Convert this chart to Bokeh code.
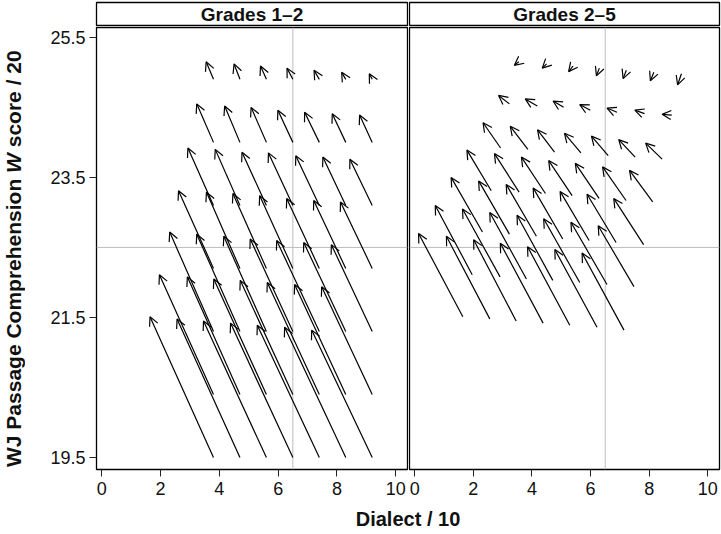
from bokeh.plotting import figure
from bokeh.models import (Arrow, OpenHead, ColumnDataSource, Span, Range1d,
                          Label, Title, FixedTicker, Div)
from bokeh.layouts import column, row
from bokeh.embed import file_html
from bokeh.resources import INLINE

FONT = "Liberation Sans"

# ---- data -------------------------------------------------------------
panel_titles = ["Grades 1\u20132", "Grades 2\u20135"]
x_ticks = [0, 2, 4, 6, 8, 10]
y_ticks = [19.5, 21.5, 23.5, 25.5]
ref_dialect = 6.5
ref_score = 22.5

# starting grid (Grades 1-2): dialect levels and score levels
x_levels = [3.8, 4.7, 5.6, 6.5, 7.4, 8.3, 9.2]
y_levels = [19.5, 20.4, 21.3, 22.2, 23.1, 24.0, 24.9]

# arrow heads, Grades 1-2 (rows follow y_levels, columns follow x_levels)
head1_x = [
    [1.64, 2.56, 3.46, 4.38, 5.29, 6.22, 7.14],
    [1.96, 2.91, 3.81, 4.71, 5.63, 6.56, 7.48],
    [2.31, 3.23, 4.15, 5.05, 5.95, 6.87, 7.81],
    [2.61, 3.56, 4.46, 5.37, 6.29, 7.21, 8.12],
    [2.93, 3.86, 4.77, 5.67, 6.60, 7.52, 8.44],
    [3.23, 4.18, 5.08, 5.99, 6.90, 7.84, 8.77],
    [3.55, 4.50, 5.40, 6.30, 7.22, 8.16, 9.10],
]
head1_y = [
    [21.51, 21.48, 21.45, 21.42, 21.39, 21.36, 21.32],
    [22.11, 22.08, 22.05, 22.03, 22.00, 21.97, 21.94],
    [22.72, 22.69, 22.66, 22.62, 22.60, 22.57, 22.54],
    [23.31, 23.29, 23.27, 23.24, 23.20, 23.17, 23.15],
    [23.92, 23.90, 23.86, 23.85, 23.81, 23.79, 23.76],
    [24.55, 24.52, 24.50, 24.46, 24.43, 24.41, 24.39],
    [25.15, 25.12, 25.09, 25.06, 25.03, 25.00, 24.98],
]
# arrow heads, Grades 2-5 (each starts where the Grades 1-2 arrow ended)
head2_x = [
    [0.13, 1.08, 2.01, 2.92, 3.85, 4.78, 5.71],
    [0.70, 1.63, 2.56, 3.49, 4.40, 5.33, 6.26],
    [1.24, 2.18, 3.12, 4.04, 4.96, 5.88, 6.79],
    [1.78, 2.72, 3.64, 4.57, 5.48, 6.41, 7.33],
    [2.33, 3.26, 4.19, 5.11, 6.03, 6.96, 7.88],
    [2.86, 3.77, 4.72, 5.63, 6.56, 7.51, 8.44],
    [3.40, 4.35, 5.25, 6.20, 7.11, 8.04, 8.97],
]
head2_y = [
    [22.70, 22.66, 22.61, 22.56, 22.51, 22.47, 22.42],
    [23.10, 23.05, 23.00, 22.96, 22.91, 22.86, 22.81],
    [23.50, 23.45, 23.40, 23.35, 23.30, 23.26, 23.20],
    [23.89, 23.84, 23.79, 23.74, 23.70, 23.65, 23.60],
    [24.28, 24.23, 24.18, 24.13, 24.09, 24.04, 23.99],
    [24.67, 24.62, 24.59, 24.54, 24.49, 24.46, 24.40],
    [25.10, 25.06, 25.01, 24.95, 24.91, 24.88, 24.82],
]

y_title_html = "WJ Passage Comprehension <i>W</i> score / 20"
x_title = "Dialect / 10"


def flat(rows):
    return [v for r in rows for v in r]


start1_x = [x for y in y_levels for x in x_levels]
start1_y = [y for y in y_levels for x in x_levels]
end1_x, end1_y = flat(head1_x), flat(head1_y)
start2_x, start2_y = end1_x, end1_y
end2_x, end2_y = flat(head2_x), flat(head2_y)

XR = (-0.18, 10.4)
YR = (19.33, 25.64)
PANEL_H = 479
YLAB_W = 28
LEFT1 = 96


def panel(x0, y0, x1, y1, width, left, right, with_y):
    p = figure(width=width, height=PANEL_H,
               x_range=Range1d(*XR), y_range=Range1d(*YR),
               output_backend="svg", toolbar_location=None,
               min_border_left=left, min_border_right=right,
               min_border_top=1, min_border_bottom=36,
               y_axis_location="left" if with_y else None)
    p.xgrid.visible = False
    p.ygrid.visible = False
    p.outline_line_color = "black"
    p.outline_line_width = 1.3
    p.background_fill_color = "white"
    p.border_fill_color = "white"

    p.add_layout(Span(location=ref_dialect, dimension="height",
                      line_color="#bdbdbd", line_width=1, level="underlay"))
    p.add_layout(Span(location=ref_score, dimension="width",
                      line_color="#bdbdbd", line_width=1, level="underlay"))

    src = ColumnDataSource(dict(x0=x0, y0=y0, x1=x1, y1=y1))
    p.add_layout(Arrow(x_start="x0", y_start="y0", x_end="x1", y_end="y1",
                       source=src, line_color="black", line_width=1.2,
                       end=OpenHead(size=9, line_color="black",
                                    line_width=1.2)))

    xa = p.xaxis[0]
    xa.ticker = FixedTicker(ticks=x_ticks)
    xa.axis_line_color = None
    xa.major_tick_in = 0
    xa.major_tick_out = 7
    xa.major_tick_line_color = "#222222"
    xa.minor_tick_line_color = None
    xa.major_label_text_font = FONT
    xa.major_label_text_font_size = "18px"
    xa.major_label_text_color = "#111111"
    xa.major_label_standoff = 5
    if with_y:
        ya = p.yaxis[0]
        ya.ticker = FixedTicker(ticks=y_ticks)
        ya.axis_line_color = None
        ya.major_tick_in = 0
        ya.major_tick_out = 7
        ya.major_tick_line_color = "#222222"
        ya.minor_tick_line_color = None
        ya.major_label_text_font = FONT
        ya.major_label_text_font_size = "18px"
        ya.major_label_text_color = "#111111"
        ya.major_label_standoff = 4
        ya.major_label_orientation = "horizontal"
    return p


def strip(text, width, left, right):
    s = figure(width=width, height=26, x_range=Range1d(0, 1),
               y_range=Range1d(0, 1), output_backend="svg",
               toolbar_location=None, min_border_left=left,
               min_border_right=right, min_border_top=2,
               min_border_bottom=1, x_axis_location=None,
               y_axis_location=None)
    s.xgrid.visible = False
    s.ygrid.visible = False
    s.outline_line_color = "black"
    s.outline_line_width = 1.3
    s.add_layout(Label(x=0.5, y=0.5, text=text, text_align="center",
                       text_baseline="middle", text_font=FONT,
                       text_font_size="19px", text_font_style="bold",
                       text_color="#111111"))
    return s


# vertical y-axis title (bold, with an italic W), read bottom to top
yl = Div(text=y_title_html, width=YLAB_W, height=466, margin=(0, 0, 0, 0),
         styles={"writing-mode": "vertical-rl",
                 "transform": "rotate(180deg)",
                 "text-align": "center",
                 "font-family": FONT, "font-size": "21px",
                 "font-weight": "bold", "color": "#111111",
                 "line-height": "28px", "white-space": "nowrap",
                 "overflow": "visible"})

p1 = panel(start1_x, start1_y, end1_x, end1_y, 408 - YLAB_W,
           LEFT1 - YLAB_W, 1, True)
p2 = panel(start2_x, start2_y, end2_x, end2_y, 313, 1, 2, False)
s1 = strip(panel_titles[0], 408, LEFT1, 1)
s2 = strip(panel_titles[1], 313, 1, 2)

lab = figure(width=721, height=29, x_range=Range1d(0, 1),
             y_range=Range1d(0, 1), output_backend="svg",
             toolbar_location=None, min_border_left=LEFT1,
             min_border_right=2, min_border_top=0, min_border_bottom=0,
             x_axis_location=None, y_axis_location=None)
lab.xgrid.visible = False
lab.ygrid.visible = False
lab.outline_line_color = None
lab.title = Title(text=x_title, align="center", text_font=FONT,
                  text_font_size="20px", text_font_style="bold",
                  text_color="#111111", standoff=0, offset=0)

layout = column(row(s1, s2), row(yl, p1, p2), lab)

open("out.html", "w").write(file_html(layout, INLINE))
